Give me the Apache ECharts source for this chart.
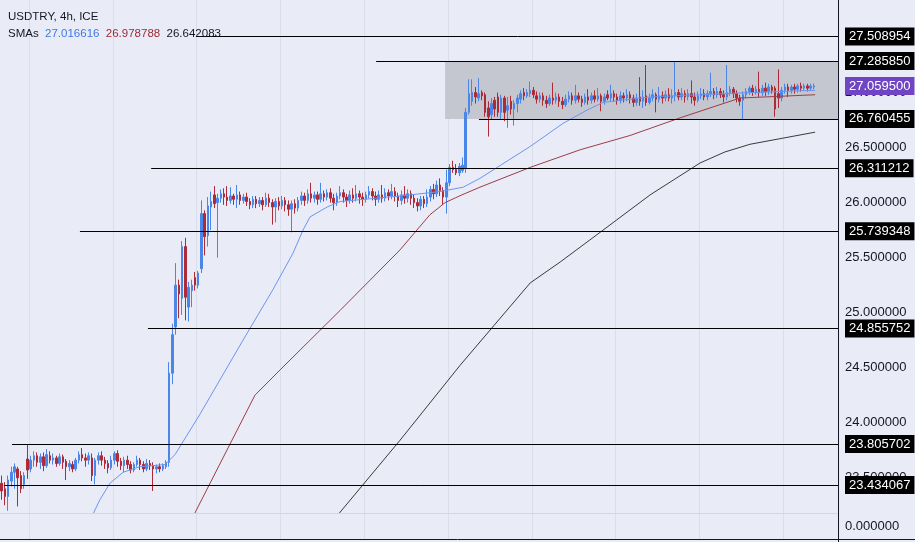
<!DOCTYPE html>
<html><head><meta charset="utf-8">
<script src="https://cdn.jsdelivr.net/npm/echarts@6/dist/echarts.min.js"></script>
<style>html,body{margin:0;padding:0;background:#e9ecf7}#c{width:915px;height:542px}</style>
</head><body><div id="c"></div><script>
const opens=[23.45,23.40,23.33,23.47,23.55,23.58,23.52,23.44,23.67,23.58,
23.66,23.70,23.64,23.69,23.61,23.70,23.66,23.68,23.63,23.69,
23.65,23.60,23.62,23.58,23.66,23.71,23.68,23.66,23.68,23.52,
23.66,23.70,23.66,23.63,23.59,23.66,23.72,23.65,23.61,23.66,
23.62,23.57,23.62,23.66,23.62,23.58,23.63,23.61,23.58,23.60,
23.58,23.60,23.64,24.45,24.87,25.25,25.13,25.60,25.05,25.20,
25.32,25.25,25.40,25.90,25.70,25.96,26.07,26.00,26.04,26.08,
26.05,26.02,26.06,26.03,26.07,26.02,26.05,26.01,25.98,26.03,
25.99,26.02,25.98,26.04,26.00,25.96,26.01,25.97,26.02,25.98,
25.94,25.99,25.95,26.02,26.06,26.02,26.08,26.04,26.07,26.03,
26.08,26.05,26.09,26.04,26.00,26.06,26.09,26.05,26.02,26.07,
26.04,26.08,26.05,26.03,26.07,26.10,26.06,26.03,26.07,26.04,
26.09,26.06,26.10,26.06,26.02,26.07,26.04,26.08,26.04,26.00,
25.97,26.03,25.99,26.05,26.12,26.08,26.16,26.11,26.05,26.18,
26.32,26.30,26.27,26.29,26.31,26.82,26.92,27.00,26.95,27.00,
26.98,26.86,26.80,26.93,26.96,26.82,26.95,26.84,26.92,26.85,
26.90,26.94,27.00,26.97,26.99,27.02,26.97,26.94,26.97,26.93,
26.90,26.95,26.93,26.96,26.92,26.89,26.94,26.97,26.93,26.97,
26.94,26.91,26.96,26.93,26.97,26.94,26.97,26.92,26.98,26.95,
26.99,26.96,26.93,26.97,26.95,26.98,26.95,26.91,26.96,26.92,
26.97,26.91,26.95,26.98,26.94,26.97,26.95,26.98,26.95,26.97,
27.00,26.96,26.99,26.96,26.99,26.96,26.93,26.97,26.99,26.96,
26.99,27.01,26.98,27.01,26.98,26.96,27.00,27.03,26.99,26.95,
26.93,26.98,27.01,27.04,27.00,27.03,27.00,27.04,27.01,27.05,
27.04,26.99,26.95,27.02,27.05,27.02,27.05,27.03,27.06,27.04,
27.06,27.04,27.05];
const closes=[23.38,23.33,23.48,23.55,23.60,23.50,23.40,23.52,23.57,23.66,
23.70,23.64,23.69,23.61,23.71,23.66,23.68,23.63,23.69,23.64,
23.60,23.63,23.58,23.66,23.71,23.68,23.66,23.70,23.52,23.66,
23.70,23.66,23.63,23.59,23.66,23.72,23.65,23.61,23.66,23.62,
23.57,23.62,23.66,23.62,23.58,23.63,23.61,23.58,23.60,23.58,
23.61,23.64,24.45,24.80,25.25,25.17,25.60,25.14,25.23,25.25,
25.25,25.36,25.90,25.69,25.97,26.01,25.99,26.04,26.08,26.05,
26.02,26.06,26.03,26.07,26.02,26.05,26.01,25.98,26.03,25.99,
26.02,25.98,26.04,26.00,25.96,26.01,25.97,26.02,25.98,25.94,
25.99,25.95,26.02,26.06,26.02,26.08,26.04,26.07,26.03,26.08,
26.05,26.09,26.04,26.00,26.06,26.09,26.05,26.02,26.07,26.04,
26.08,26.05,26.03,26.07,26.10,26.06,26.03,26.07,26.04,26.09,
26.06,26.10,26.06,26.02,26.07,26.04,26.08,26.04,26.00,25.97,
26.03,25.99,26.05,26.12,26.08,26.16,26.11,26.05,26.18,26.32,
26.30,26.27,26.33,26.34,26.82,26.99,27.00,26.96,26.99,26.97,
26.82,26.78,26.90,26.85,26.82,26.95,26.82,26.88,26.85,26.90,
26.95,26.99,26.97,27.00,27.02,26.98,26.94,26.97,26.93,26.90,
26.95,26.93,26.96,26.92,26.89,26.94,26.97,26.93,26.97,26.94,
26.91,26.96,26.93,26.97,26.94,26.97,26.92,26.96,26.95,26.99,
26.96,26.93,26.97,26.95,26.98,26.95,26.91,26.95,26.92,26.96,
26.91,26.95,26.98,26.94,26.97,26.95,26.98,26.95,26.97,27.00,
26.96,26.99,26.96,26.99,26.96,26.93,26.97,26.99,26.96,26.99,
27.01,26.98,27.01,26.98,26.96,27.00,27.03,26.99,26.95,26.92,
26.98,27.01,27.04,27.00,27.03,27.00,27.04,27.01,27.05,27.02,
26.85,26.95,27.02,27.05,27.02,27.05,27.03,27.06,27.04,27.06,
27.04,27.06,27.06];
const lows=[23.30,23.25,23.20,23.42,23.40,23.24,23.36,23.40,23.49,23.55,
23.60,23.60,23.58,23.56,23.59,23.63,23.62,23.60,23.61,23.58,
23.48,23.56,23.55,23.56,23.63,23.65,23.60,23.62,23.47,23.44,
23.62,23.61,23.58,23.54,23.57,23.62,23.60,23.57,23.55,23.58,
23.54,23.55,23.60,23.57,23.55,23.56,23.57,23.38,23.54,23.55,
23.56,23.58,23.60,24.35,24.80,24.95,24.98,24.93,24.92,25.05,
25.20,25.22,25.36,25.52,25.60,25.75,25.95,25.50,26.00,25.98,
25.97,25.99,25.98,25.95,25.98,25.99,25.97,25.94,25.95,25.95,
25.96,25.93,25.96,25.96,25.80,25.82,25.93,25.94,25.92,25.88,
25.73,25.90,25.92,25.98,25.97,25.99,26.00,26.00,25.98,26.00,
26.01,26.02,26.00,25.93,25.97,26.03,26.00,25.96,25.99,26.00,
26.01,25.99,25.97,26.00,26.04,26.02,25.97,26.00,26.00,26.01,
26.02,26.03,26.01,25.96,25.98,25.99,26.00,25.98,25.95,25.92,
25.93,25.95,25.96,26.01,26.03,26.05,26.06,25.98,25.90,26.15,
26.27,26.25,26.24,26.27,26.27,26.80,26.88,26.90,26.92,26.93,
26.78,26.60,26.75,26.78,26.78,26.76,26.74,26.68,26.80,26.70,
26.82,26.90,26.93,26.95,26.96,26.95,26.90,26.91,26.88,26.86,
26.88,26.89,26.90,26.87,26.85,26.87,26.91,26.89,26.90,26.91,
26.87,26.89,26.89,26.90,26.91,26.92,26.83,26.89,26.93,26.92,
26.92,26.89,26.90,26.91,26.92,26.90,26.87,26.88,26.88,26.86,
26.88,26.89,26.92,26.82,26.91,26.90,26.92,26.92,26.90,26.92,
26.93,26.93,26.91,26.93,26.90,26.88,26.91,26.94,26.93,26.93,
26.96,26.94,26.95,26.95,26.91,26.93,26.97,26.95,26.91,26.88,
26.75,26.95,26.98,26.97,26.98,26.96,26.97,26.97,26.98,26.99,
26.78,26.86,26.92,26.99,26.96,26.99,26.99,27.00,27.01,27.02,
27.01,27.02,27.03];
const highs=[23.52,23.46,23.52,23.60,23.63,23.60,23.56,23.55,23.80,23.70,
23.74,23.73,23.72,23.73,23.76,23.74,23.72,23.70,23.72,23.71,
23.67,23.66,23.65,23.68,23.74,23.77,23.72,23.73,23.72,23.68,
23.73,23.74,23.69,23.66,23.70,23.74,23.75,23.68,23.69,23.70,
23.65,23.64,23.70,23.68,23.65,23.67,23.66,23.64,23.62,23.63,
23.63,23.66,24.55,24.90,25.45,25.30,25.65,25.68,25.28,25.30,
25.37,25.38,26.02,25.93,26.05,26.10,26.15,26.08,26.12,26.13,
26.15,26.14,26.08,26.16,26.10,26.08,26.09,26.04,26.06,26.06,
26.05,26.05,26.09,26.08,26.03,26.04,26.05,26.06,26.05,26.02,
26.02,26.03,26.05,26.10,26.09,26.12,26.18,26.10,26.10,26.18,
26.11,26.12,26.13,26.08,26.09,26.15,26.12,26.08,26.11,26.13,
26.16,26.11,26.09,26.10,26.15,26.13,26.10,26.11,26.16,26.13,
26.12,26.17,26.14,26.09,26.11,26.15,26.12,26.11,26.07,26.04,
26.06,26.06,26.12,26.15,26.17,26.20,26.22,26.14,26.30,26.35,
26.38,26.35,26.36,26.41,26.86,27.12,27.12,27.05,27.13,27.02,
27.00,26.92,26.95,26.96,27.00,26.98,26.97,26.96,26.97,26.93,
26.98,27.02,27.04,27.03,27.10,27.05,27.01,27.00,27.00,26.97,
26.98,27.09,27.00,26.99,26.96,26.98,27.01,27.00,27.07,27.00,
26.97,26.99,27.03,27.00,27.02,27.04,26.99,26.99,27.02,27.07,
27.02,26.99,27.01,27.00,27.03,27.01,26.98,26.99,27.14,27.02,
27.25,26.99,27.03,27.00,27.05,27.01,27.02,27.04,27.03,27.28,
27.03,27.04,27.02,27.03,27.11,27.00,27.01,27.04,27.03,27.02,
27.18,27.04,27.05,27.04,27.02,27.25,27.06,27.05,27.02,26.98,
27.01,27.04,27.06,27.07,27.06,27.19,27.07,27.09,27.08,27.07,
27.06,27.21,27.05,27.08,27.08,27.07,27.08,27.08,27.09,27.08,
27.08,27.08,27.08];

// SMA curves: [bar index, price]
const smaFast=[[27.7,23.13],[30.5,23.30],[33.6,23.45],[37.7,23.55],[42.9,23.60],[50.7,23.62],[53.8,23.71],[61.6,24.08],[74.9,24.75],[84.2,25.21],[90.4,25.54],[93.5,25.75],[95.7,25.87],[101.0,25.96],[105.0,26.01],[123.6,26.06],[136.0,26.10],[143.2,26.14],[148.4,26.22],[164.0,26.51],[174.2,26.72],[181.6,26.84],[186.6,26.91],[201.2,26.96],[216.7,26.98],[232.2,27.00],[252.4,27.02]];
const smaMid=[[59.1,23.13],[78.6,24.25],[86.4,24.48],[95.7,24.75],[105.0,25.02],[123.6,25.57],[132.9,25.89],[137.6,26.00],[142.8,26.07],[148.4,26.14],[164.0,26.32],[179.5,26.48],[195.0,26.61],[210.5,26.77],[229.1,26.95],[252.4,26.98]];
const smaSlow=[[103.4,23.13],[123.6,23.84],[142.2,24.52],[164.0,25.27],[173.3,25.46],[185.7,25.73],[201.2,26.07],[216.7,26.36],[224.4,26.46],[232.2,26.53],[252.4,26.64]];

const levels=[27.508954,27.285850,26.760455,26.311212,25.739348,24.855752,23.805702,23.434067];
const levelStart=[60.6,116.2,148.1,46.4,24.3,45.4,3.2,0.7];
const zoneStart=137.6, zoneLow=26.760455, zoneHigh=27.285850;
const lastPrice=27.0595;
const tickValues=[23.5,24,24.5,25,25.5,26,26.5,27,27.5];
const smaLast=[27.016616,26.978788,26.642083];
const slotCount=260;

const FONT='Liberation Sans, Arial, sans-serif';
const cats=[];for(let i=0;i<slotCount;i++)cats.push(String(i));
const candles=opens.map((o,i)=>[o,closes[i],lows[i],highs[i]]);
const gridInt=(i)=>(i-9)%26===0;

const levelLines=levels.map((v,i)=>[
 {coord:[levelStart[i],v],label:{formatter:v.toFixed(6)}},
 {coord:[slotCount-0.5,v]}]);
levelLines.push([
 {coord:[slotCount-7,lastPrice],lineStyle:{color:'rgba(0,0,0,0)',width:0},label:{formatter:lastPrice.toFixed(6),backgroundColor:'#6f45c4',color:'#ffffff'}},
 {coord:[slotCount-0.5,lastPrice]}]);

const chart=echarts.init(document.getElementById('c'),null,{renderer:'canvas'});
chart.setOption({
 animation:false,
 backgroundColor:'#e9ecf7',
 textStyle:{fontFamily:FONT},
 title:{left:8,top:8,padding:0,
  text:'{t|USDTRY, 4h, ICE}\n{s|SMAs}  {b|'+smaLast[0].toFixed(6)+'}  {r|'+smaLast[1].toFixed(6)+'}  {k|'+smaLast[2].toFixed(6)+'}',
  textStyle:{fontSize:11.5,fontWeight:'normal',color:'#131722',lineHeight:17,fontFamily:FONT,
   rich:{t:{fontSize:11.5,color:'#131722',fontFamily:FONT,lineHeight:17},
         s:{fontSize:11.5,color:'#131722',fontFamily:FONT,lineHeight:17},
         b:{fontSize:11.5,color:'#3f78e0',fontFamily:FONT,lineHeight:17},
         r:{fontSize:11.5,color:'#9b2a35',fontFamily:FONT,lineHeight:17},
         k:{fontSize:11.5,color:'#131722',fontFamily:FONT,lineHeight:17}}}},
 grid:[{left:0,right:77,top:0,bottom:29},{left:0,right:77,top:514,bottom:3}],
 xAxis:[
  {type:'category',gridIndex:0,data:cats,boundaryGap:true,axisLine:{show:false},axisTick:{show:false},axisLabel:{show:false},
   splitLine:{show:true,interval:gridInt,lineStyle:{color:'#d9deea',width:1}}},
  {type:'value',gridIndex:0,min:-0.5,max:slotCount-0.5,show:false},
  {type:'category',gridIndex:1,data:cats,boundaryGap:true,axisLine:{show:false},axisTick:{show:false},axisLabel:{show:false},
   splitLine:{show:true,interval:gridInt,lineStyle:{color:'#d9deea',width:1}}}
 ],
 yAxis:[
  {type:'value',gridIndex:0,position:'right',min:23.1797,max:27.8408,
   axisLine:{show:false},axisTick:{show:false},splitLine:{show:false},
   axisLabel:{customValues:tickValues,formatter:(v)=>v.toFixed(6),color:'#131722',fontSize:13,margin:7,fontFamily:FONT}},
  {type:'value',gridIndex:1,position:'right',min:-1,max:1,
   axisLine:{show:false},axisTick:{show:false},splitLine:{show:false},
   axisLabel:{customValues:[0],formatter:(v)=>v.toFixed(6),color:'#131722',fontSize:13,margin:7,fontFamily:FONT}}
 ],
 series:[
  {type:'line',name:'levels',xAxisIndex:1,yAxisIndex:0,data:[],z:1,
   markArea:{silent:true,itemStyle:{color:'#c4c7cf'},data:[[{coord:[zoneStart,zoneLow]},{coord:[slotCount-0.5,zoneHigh]}]]},
   markLine:{silent:true,symbol:['none','none'],animation:false,
    lineStyle:{color:'#000000',width:1,type:'solid'},
    label:{show:true,position:'end',distance:7,color:'#ffffff',backgroundColor:'#000000',padding:[3,4,2,4],fontSize:13,fontFamily:FONT},
    data:levelLines}},
  {type:'candlestick',name:'USDTRY',xAxisIndex:0,yAxisIndex:0,data:candles,barWidth:2,z:3,
   itemStyle:{color:'#4a86e8',color0:'#ad2a36',borderColor:'#4a86e8',borderColor0:'#ad2a36',borderWidth:1}},
  {type:'line',name:'SMA fast',xAxisIndex:1,yAxisIndex:0,data:smaFast,showSymbol:false,z:4,lineStyle:{color:'#6b95ee',width:1}},
  {type:'line',name:'SMA mid',xAxisIndex:1,yAxisIndex:0,data:smaMid,showSymbol:false,z:4,lineStyle:{color:'#9c3d47',width:1}},
  {type:'line',name:'SMA slow',xAxisIndex:1,yAxisIndex:0,data:smaSlow,showSymbol:false,z:4,lineStyle:{color:'#3a3a3a',width:1}}
 ],
 graphic:[
  {type:'line',silent:true,z:10,shape:{x1:0,y1:513.5,x2:838,y2:513.5},style:{stroke:'#d3d7e2',lineWidth:1}},
  {type:'line',silent:true,z:10,shape:{x1:838.5,y1:0,x2:838.5,y2:542},style:{stroke:'#131722',lineWidth:1}},
  {type:'line',silent:true,z:10,shape:{x1:0,y1:539.5,x2:915,y2:539.5},style:{stroke:'#131722',lineWidth:1}}
 ]
});
</script></body></html>
